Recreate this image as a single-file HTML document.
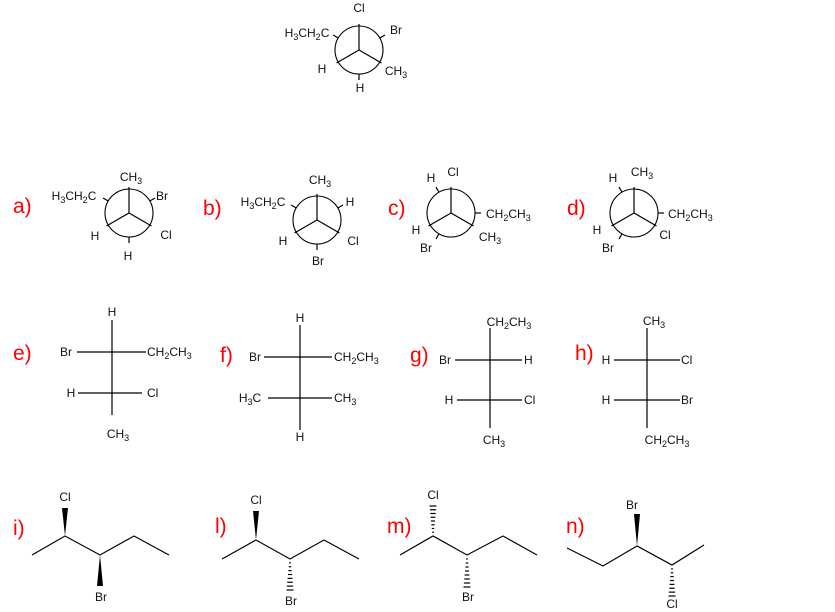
<!DOCTYPE html>
<html><head><meta charset="utf-8"><style>
html,body{margin:0;padding:0;background:#fff;}
svg{display:block;}
text{font-family:"Liberation Sans",Arial,sans-serif;font-size:12px;fill:#111;}
.lab{font-size:21px;fill:#f00;}
</style></head><body>
<svg id="s" width="835" height="612" viewBox="0 0 835 612" xmlns="http://www.w3.org/2000/svg"></svg>
<script>
var S=document.getElementById('s'),NS='http://www.w3.org/2000/svg';
function el(t,a,p){var e=document.createElementNS(NS,t);for(var k in a)e.setAttribute(k,a[k]);(p||S).appendChild(e);return e;}
function line(x1,y1,x2,y2){el('line',{x1:x1,y1:y1,x2:x2,y2:y2,stroke:'#000','stroke-width':1.2});}
function T(x,y,s,anc){var t=el('text',{x:x,y:y+4,'text-anchor':anc||'middle'});var sub=false;
 for(var i=0;i<s.length;i++){var c=s[i];var d=/[0-9]/.test(c);var ts=el('tspan',{},t);
  if(d&&!sub){ts.setAttribute('dy',3);ts.setAttribute('font-size','9');sub=true;}
  else if(d){ts.setAttribute('font-size','9');}
  else if(!d&&sub){ts.setAttribute('dy',-3);sub=false;}
  ts.textContent=c;}}
function L(x,y,s){var t=el('text',{x:x,y:y,'class':'lab'});t.textContent=s;}
function newman(cx,cy,front,back){var r=24;el('circle',{cx:cx,cy:cy,r:r,fill:'none',stroke:'#000','stroke-width':1.1});
 front.forEach(function(a){var q=a*Math.PI/180;line(cx,cy,cx+Math.cos(q)*(r+2),cy-Math.sin(q)*(r+2));});
 back.forEach(function(a){var q=a*Math.PI/180;line(cx+Math.cos(q)*r,cy-Math.sin(q)*r,cx+Math.cos(q)*(r+6),cy-Math.sin(q)*(r+6));});}
function wedge(x1,y1,x2,y2){var dx=x2-x1,dy=y2-y1,l=Math.hypot(dx,dy),nx=-dy/l*3,ny=dx/l*3;
 el('polygon',{points:x1+','+y1+' '+(x2+nx)+','+(y2+ny)+' '+(x2-nx)+','+(y2-ny),fill:'#000'});}
function hash(x1,y1,x2,y2){var n=8;for(var i=1;i<=n;i++){var f=i/n,x=x1+(x2-x1)*f,y=y1+(y2-y1)*f,w=0.5+f*3;line(x-w,y,x+w,y);}}
function poly(p){el('polyline',{points:p.map(function(a){return a.join(',')}).join(' '),fill:'none',stroke:'#000','stroke-width':1.2});}

// top
newman(359,50,[90,210,330],[150,30,270]);
T(359,8,'Cl');T(307,33,'H3CH2C');T(396,30,'Br');T(322,69,'H');T(396,71,'CH3');T(360,88,'H');
// a
L(13,213,'a)');newman(129,213,[90,210,330],[150,30,270]);
T(131,177,'CH3');T(74,196,'H3CH2C');T(162,196,'Br');T(95,236,'H');T(166,235,'Cl');T(128,256,'H');
// b
L(203,215,'b)');newman(317,220,[90,210,330],[150,30,270]);
T(320,180,'CH3');T(263,202,'H3CH2C');T(350,202,'H');T(283,241,'H');T(353,241,'Cl');T(318,261,'Br');
// c
L(388,215,'c)');newman(451,213,[90,210,330],[120,0,240]);
T(431,178,'H');T(453,172,'Cl');T(486,214,'CH2CH3','start');T(416,230,'H');T(490,237,'CH3');T(426,248,'Br');
// d
L(567,215,'d)');newman(634,213,[90,210,330],[120,0,240]);
T(613,178,'H');T(642,172,'CH3');T(668,214,'CH2CH3','start');T(597,230,'H');T(665,235,'Cl');T(608,248,'Br');
// e
L(13,360,'e)');line(112,320,112,415);line(77,352,146,352);line(78,393,142,393);
T(112,312,'H');T(66,352,'Br');T(147,352,'CH2CH3','start');T(71,393,'H');T(147,393,'Cl','start');T(118,434,'CH3');
// f
L(220,362,'f)');line(300,325,300,430);line(264,357,332,357);line(268,398,332,398);
T(300,318,'H');T(255,357,'Br');T(334,357,'CH2CH3','start');T(250,398,'H3C');T(334,398,'CH3','start');T(300,437,'H');
// g
L(410,362,'g)');line(490,328,490,428);line(455,360,522,360);line(457,400,522,400);
T(509,322,'CH2CH3');T(445,360,'Br');T(524,360,'H','start');T(449,400,'H');T(524,400,'Cl','start');T(494,440,'CH3');
// h
L(575,360,'h)');line(647,328,647,428);line(614,360,680,360);line(614,400,680,400);
T(654,321,'CH3');T(606,360,'H');T(681,360,'Cl','start');T(606,400,'H');T(681,400,'Br','start');T(667,440,'CH2CH3');
// i
L(13,535,'i)');poly([[32,555],[65,536],[100,555],[134,536],[169,555]]);wedge(65,536,65,508);wedge(100,555,100,586);
T(65,497,'Cl');T(101,597,'Br');
// l
L(215,533,'l)');poly([[222,559],[256,540],[290,559],[324,540],[359,559]]);wedge(256,540,256,511);hash(290,559,290,590);
T(256,500,'Cl');T(291,601,'Br');
// m
L(387,533,'m)');poly([[400,555],[433,536],[467,555],[503,536],[537,555]]);hash(433,536,433,506);hash(467,555,467,587);
T(433,495,'Cl');T(468,597,'Br');
// n
L(566,533,'n)');poly([[567,548],[603,566],[637,546],[672,565],[704,545]]);wedge(637,546,637,514);hash(672,565,672,596);
T(632,505,'Br');T(672,604,'Cl');
</script>
</body></html>
